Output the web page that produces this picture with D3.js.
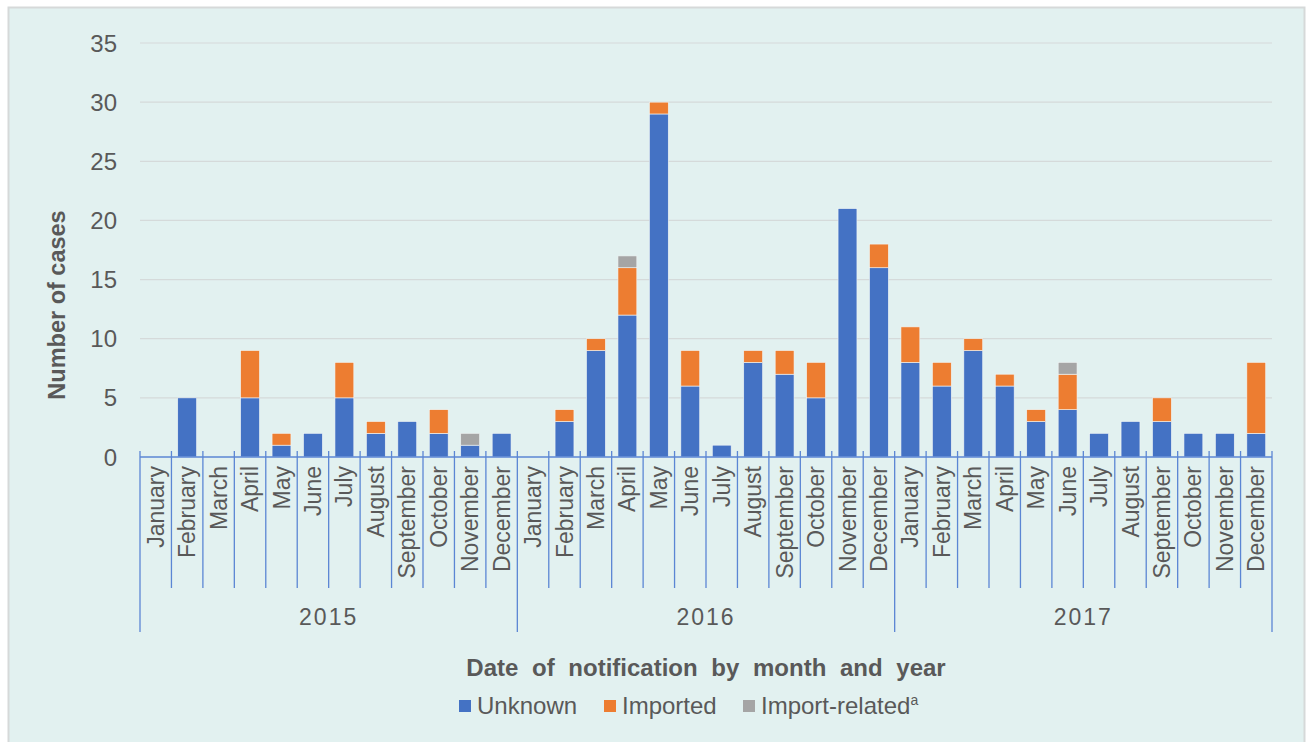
<html>
  <head>
    <meta charset="UTF-8" />
    <script src="https://d3js.org/d3.v7.min.js"></script>
    <style>
      body { margin: 0; background: #ffffff; }
      text { font-family: "Liberation Sans", Arial, sans-serif; fill: #595959; }
    </style>
  </head>
  <body>
    <svg id="svg"></svg>
    <script>
      // chart data
      var years = ["2015", "2016", "2017"];
      var monthNames = ["January", "February", "March", "April", "May", "June",
        "July", "August", "September", "October", "November", "December"];
      var unknown = [0, 5, 0, 5, 1, 2, 5, 2, 3, 2, 1, 2,
        0, 3, 9, 12, 29, 6, 1, 8, 7, 5, 21, 16,
        8, 6, 9, 6, 3, 4, 2, 3, 3, 2, 2, 2];
      var imported = [0, 0, 0, 4, 1, 0, 3, 1, 0, 2, 0, 0,
        0, 1, 1, 4, 1, 3, 0, 1, 2, 3, 0, 2,
        3, 2, 1, 1, 1, 3, 0, 0, 2, 0, 0, 6];
      var importRelated = [0, 0, 0, 0, 0, 0, 0, 0, 0, 0, 1, 0,
        0, 0, 0, 1, 0, 0, 0, 0, 0, 0, 0, 0,
        0, 0, 0, 0, 0, 1, 0, 0, 0, 0, 0, 0];
      var yTicks = [0, 5, 10, 15, 20, 25, 30, 35];
      var seriesNames = ["Unknown", "Imported", "Import-related"];
      var colors = ["#4472C4", "#ED7D31", "#A5A5A5"];

      var width = 1309, height = 742;
      var plotLeft = 140, plotRight = 1272, plotTop = 43, plotBottom = 457;
      var axisBlue = "#5B86D4";

      var svg = d3.select("#svg").attr("width", width).attr("height", height);

      // panel
      svg.append("rect")
        .attr("x", 8.5).attr("y", 7.5)
        .attr("width", 1296).attr("height", 760)
        .attr("fill", "#E2F1F0")
        .attr("stroke", "#D6D9D9").attr("stroke-width", 2);

      var rows = [];
      years.forEach(function (yr, yi) {
        monthNames.forEach(function (m, mi) {
          var i = yi * 12 + mi;
          rows.push({
            key: yr + "-" + m, year: yr, month: m,
            Unknown: unknown[i], Imported: imported[i], "Import-related": importRelated[i]
          });
        });
      });

      // inner 0.4 / outer 0.2 keeps step = full category width
      var x = d3.scaleBand().domain(rows.map((d) => d.key)).range([plotLeft, plotRight])
        .paddingInner(0.4).paddingOuter(0.2);
      var y = d3.scaleLinear().domain([0, 35]).range([plotBottom, plotTop]);

      // gridlines
      svg.append("g").selectAll("line")
        .data(yTicks.filter((t) => t > 0))
        .enter().append("line")
        .attr("x1", plotLeft).attr("x2", plotRight)
        .attr("y1", (d) => y(d)).attr("y2", (d) => y(d))
        .attr("stroke", "#D5DADA").attr("stroke-width", 1.2);

      // y tick labels
      svg.append("g").selectAll("text")
        .data(yTicks)
        .enter().append("text")
        .attr("x", 117).attr("y", (d) => y(d))
        .attr("dy", "0.36em")
        .attr("text-anchor", "end")
        .style("font-size", "24px")
        .text((d) => d);

      // stacked bars
      var stack = d3.stack().keys(seriesNames)(rows);
      svg.append("g").selectAll("g")
        .data(stack)
        .enter().append("g")
        .attr("fill", (d, i) => colors[i])
        .selectAll("rect")
        .data((d) => d.filter((p) => p[1] > p[0]))
        .enter().append("rect")
        .attr("x", (d) => x(d.data.key))
        .attr("width", x.bandwidth())
        .attr("y", (d) => y(d[1]))
        .attr("height", (d) => y(d[0]) - y(d[1]))
        .attr("stroke", "#F2F7F7").attr("stroke-width", 0.6);

      // category axis
      var step = x.step();
      svg.append("line")
        .attr("x1", plotLeft).attr("x2", plotRight)
        .attr("y1", plotBottom).attr("y2", plotBottom)
        .attr("stroke", axisBlue).attr("stroke-width", 1.3);

      svg.append("g").selectAll("line")
        .data(d3.range(rows.length + 1))
        .enter().append("line")
        .attr("x1", (i) => plotLeft + i * step).attr("x2", (i) => plotLeft + i * step)
        .attr("y1", plotBottom - 6)
        .attr("y2", (i) => (i % 12 === 0 ? 632 : 588))
        .attr("stroke", axisBlue).attr("stroke-width", 1.3);

      svg.append("g").selectAll("text")
        .data(rows)
        .enter().append("text")
        .attr("transform", (d) => "translate(" + (x(d.key) + x.bandwidth() / 2 + 8) + ",466) rotate(-90)")
        .attr("text-anchor", "end")
        .style("font-size", "23px")
        .text((d) => d.month);

      svg.append("g").selectAll("text")
        .data(years)
        .enter().append("text")
        .attr("x", (d, i) => plotLeft + (i * 12 + 6) * step)
        .attr("y", 625)
        .attr("text-anchor", "middle")
        .style("font-size", "23px")
        .style("letter-spacing", "2px")
        .text((d) => d);

      // axis titles
      svg.append("text")
        .attr("transform", "translate(65,305) rotate(-90)")
        .attr("text-anchor", "middle")
        .style("font-size", "23.5px")
        .style("font-weight", "bold")
        .text("Number of cases");

      svg.append("text")
        .attr("x", 706).attr("y", 676)
        .attr("text-anchor", "middle")
        .style("font-size", "24px")
        .style("font-weight", "bold")
        .style("word-spacing", "7px")
        .text("Date of notification by month and year");

      // legend
      var legendX = [459, 604, 743];
      var lg = svg.append("g").selectAll("g")
        .data(seriesNames)
        .enter().append("g")
        .attr("transform", (d, i) => "translate(" + legendX[i] + ",700)");
      lg.append("rect")
        .attr("width", 12).attr("height", 12)
        .attr("fill", (d, i) => colors[i]);
      var lt = lg.append("text")
        .attr("x", 18).attr("y", 14)
        .style("font-size", "24px")
        .text((d) => d);
      lt.filter((d) => d === "Import-related")
        .append("tspan")
        .attr("dy", "-9")
        .style("font-size", "14px")
        .text("a");
    </script>
  </body>
</html>
